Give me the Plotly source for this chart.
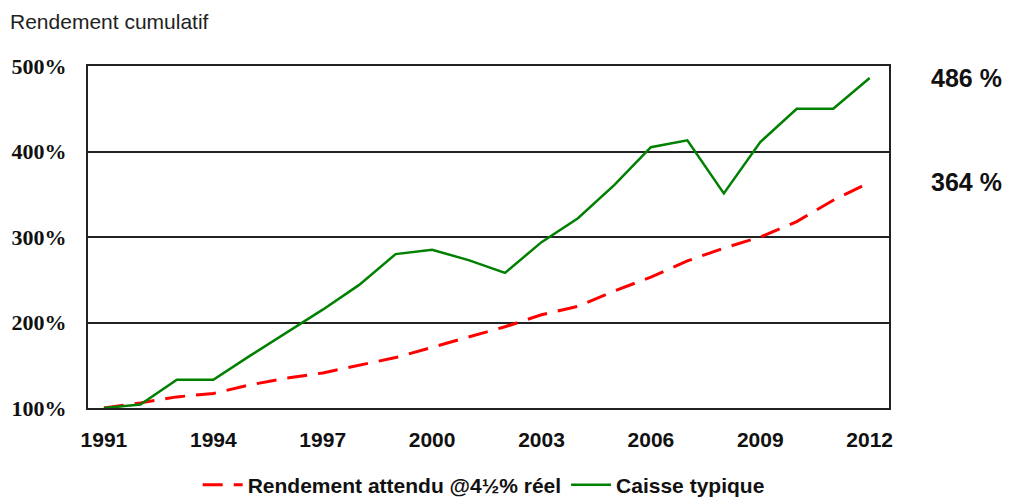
import plotly.graph_objects as go

years = list(range(1991, 2013))
caisse_typique = [100, 104, 133, 133, 161, 188, 215, 244, 280, 285, 273, 258,
                  294, 322, 361, 405, 413, 351, 411, 450, 450, 486]
rendement_attendu = [100, 106, 113, 117, 127, 135, 141, 150, 159, 171, 183, 195,
                     209, 219, 237, 253, 272, 287, 300, 318, 343, 364]
y_ticks = [100, 200, 300, 400, 500]
x_ticks = [1991, 1994, 1997, 2000, 2003, 2006, 2009, 2012]

SANS = "Liberation Sans, Arial, sans-serif"
SERIF = "Liberation Serif, Times New Roman, serif"

fig = go.Figure()
fig.add_trace(go.Scatter(
    x=years, y=rendement_attendu, mode="lines",
    name="Rendement attendu @4½% réel",
    line=dict(color="#FF0000", width=3, dash="20px,11px"),
))
fig.add_trace(go.Scatter(
    x=years, y=caisse_typique, mode="lines",
    name="Caisse typique",
    line=dict(color="#008000", width=2.5),
))

# end-of-period values shown at the right of the plot
for series in (caisse_typique, rendement_attendu):
    fig.add_annotation(
        x=1.097, xref="paper", y=series[-1], yref="y",
        text=f"{series[-1]} %", showarrow=False,
        font=dict(family=SANS, size=25, color="#111111", weight="bold"),
        xanchor="center", yanchor="middle",
    )

fig.update_layout(
    width=1014, height=501,
    margin=dict(l=85, r=125, t=66, b=93),
    paper_bgcolor="white", plot_bgcolor="white",
    title=dict(
        text="Rendement cumulatif", x=10 / 1014, xanchor="left",
        y=1 - 22 / 501, yanchor="middle",
        font=dict(family=SANS, size=21, color="#222222"),
    ),
    showlegend=True,
    legend=dict(
        orientation="h", x=0.494, xanchor="center",
        yref="container", y=1 - 485 / 501, yanchor="middle",
        font=dict(family=SANS, size=21, color="#111111", weight="bold"),
        itemwidth=40, bgcolor="rgba(0,0,0,0)",
    ),
    xaxis=dict(
        range=[1990.563, 2012.53], tickmode="array", tickvals=x_ticks,
        ticktext=[str(v) for v in x_ticks], showgrid=False, zeroline=False,
        showline=True, mirror=True, linecolor="#222222", linewidth=2,
        ticks="", ticklabelstandoff=12,
        tickfont=dict(family=SANS, size=21, color="#111111", weight="bold"),
    ),
    yaxis=dict(
        range=[100, 500], tickmode="array", tickvals=y_ticks,
        ticktext=[f"{v}%" for v in y_ticks], showgrid=True,
        gridcolor="#222222", gridwidth=2, zeroline=False,
        showline=True, mirror=True, linecolor="#222222", linewidth=2,
        ticks="", ticklabelstandoff=15,
        tickfont=dict(family=SERIF, size=22, color="#111111", weight="bold"),
    ),
)

fig.write_html("out.html")
